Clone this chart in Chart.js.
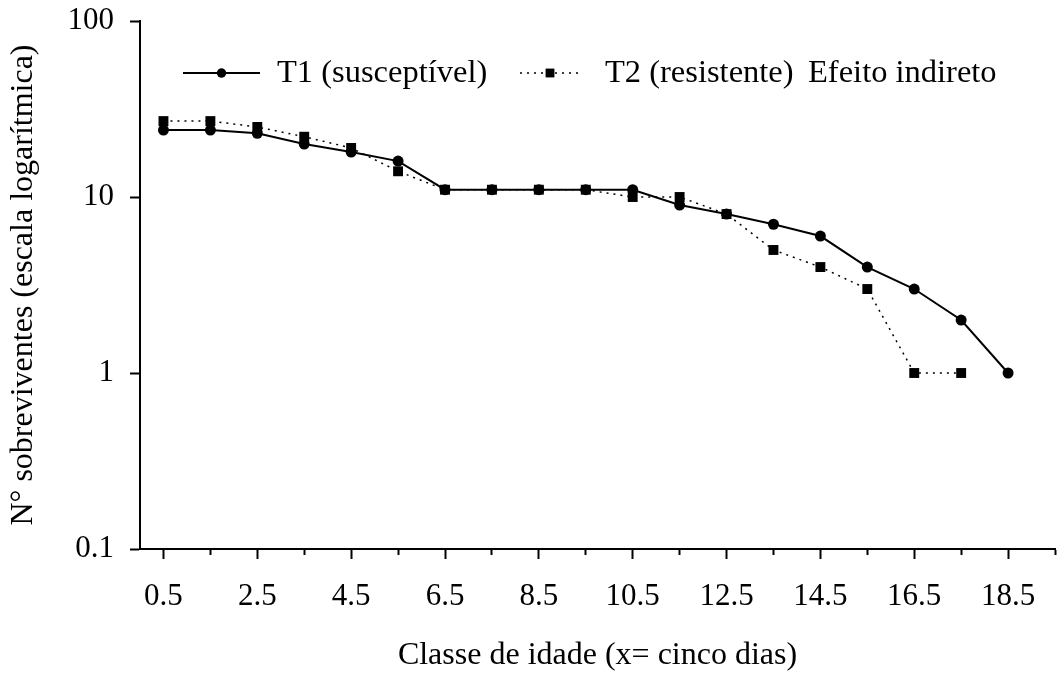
<!DOCTYPE html>
<html lang="pt">
<head>
<meta charset="UTF-8">
<title>Sobreviventes por classe de idade</title>
<script src="https://cdn.jsdelivr.net/npm/chart.js"></script>
<style>
  html, body { margin: 0; padding: 0; background: #fff; overflow: hidden; }
  #wrap { width: 1059px; height: 673px; overflow: hidden; }
</style>
</head>
<body>
<div id="wrap"><canvas id="myChart" width="1062" height="673"></canvas></div>
<script>
  // dados (classe de idade, x = cinco dias)
  const classes = [0.5, 1.5, 2.5, 3.5, 4.5, 5.5, 6.5, 7.5, 8.5, 9.5, 10.5, 11.5, 12.5, 13.5, 14.5, 15.5, 16.5, 17.5, 18.5];
  const t1 = [24, 24, 23, 20, 18, 16, 11, 11, 11, 11, 11, 9, 8, 7, 6, 4, 3, 2, 1];
  const t2 = [27, 27, 25, 22, 19, 14, 11, 11, 11, 11, 10, 10, 8, 5, 4, 3, 1, 1];
  const nomes = ['T1 (susceptível)', 'T2 (resistente)'];
  const nota = 'Efeito indireto';

  const xTicks = [0.5, 1.5, 2.5, 3.5, 4.5, 5.5, 6.5, 7.5, 8.5, 9.5, 10.5, 11.5, 12.5, 13.5, 14.5, 15.5, 16.5, 17.5, 18.5, 19.5];
  const xLabels = [0.5, 2.5, 4.5, 6.5, 8.5, 10.5, 12.5, 14.5, 16.5, 18.5];
  const yTicks = [0.1, 1, 10, 100];
  const yLabels = ['0.1', '1', '10', '100'];

  const fonte = 'Liberation Serif, "Times New Roman", serif';

  function pontos(vals) {
    return vals.map((v, i) => ({ x: classes[i], y: v }));
  }

  // legenda dentro da area do grafico (linha + marcador)
  const legendaInterna = {
    id: 'legendaInterna',
    afterDraw(chart) {
      const ctx = chart.ctx;
      const y = 73;
      const itens = [
        { ds: chart.data.datasets[0], x1: 183, x2: 260, tx: 277, r: 4.5 },
        { ds: chart.data.datasets[1], x1: 520, x2: 580, tx: 605, r: 6 }
      ];
      ctx.save();
      itens.forEach(it => {
        ctx.strokeStyle = '#000';
        ctx.lineWidth = it.ds.borderWidth;
        ctx.setLineDash(it.ds.borderDash || []);
        ctx.beginPath();
        ctx.moveTo(it.x1, y);
        ctx.lineTo(it.x2, y);
        ctx.stroke();
        ctx.setLineDash([]);
        Chart.helpers.drawPoint(ctx, {
          pointStyle: it.ds.pointStyle, radius: it.r, borderWidth: 0
        }, (it.x1 + it.x2) / 2, y);
        ctx.fillStyle = '#000';
        ctx.fill();
        ctx.font = '32.5px ' + fonte;
        ctx.textBaseline = 'middle';
        ctx.textAlign = 'left';
        ctx.fillText(it.ds.label, it.tx, y);
      });
      ctx.fillText(nota, 808, y);
      ctx.restore();
    }
  };

  const ctx = document.getElementById('myChart').getContext('2d');
  const chart = new Chart(ctx, {
    type: 'line',
    data: {
      datasets: [{
        label: nomes[0],
        data: pontos(t1),
        borderColor: '#000',
        backgroundColor: '#000',
        borderWidth: 2,
        pointStyle: 'circle',
        pointRadius: 5.5,
        pointBorderWidth: 0,
        tension: 0,
        order: 2
      }, {
        label: nomes[1],
        data: pontos(t2),
        borderColor: '#000',
        backgroundColor: '#000',
        borderWidth: 1.5,
        borderDash: [2, 5],
        pointStyle: 'rect',
        pointRadius: 7,
        pointBorderWidth: 0,
        tension: 0,
        order: 1
      }]
    },
    options: {
      responsive: false,
      devicePixelRatio: 1,
      animation: false,
      layout: { padding: { top: 21, right: 0, left: 0, bottom: 0 } },
      plugins: {
        legend: { display: false },
        tooltip: { enabled: false }
      },
      scales: {
        x: {
          type: 'linear',
          min: 0,
          max: 19.5,
          afterBuildTicks: s => { s.ticks = xTicks.map(v => ({ value: v })); },
          afterFit: s => { s.height = 124; s.paddingLeft = 0; s.paddingRight = 0; },
          border: { display: true, color: '#000', width: 2 },
          grid: {
            drawOnChartArea: false,
            tickLength: 10,
            tickWidth: 2,
            tickColor: '#000',
            tickBorderDash: c => xLabels.includes(c.tick.value) ? [] : [5, 30]
          },
          ticks: {
            autoSkip: false,
            maxRotation: 0,
            padding: 19,
            color: '#000',
            font: { family: fonte, size: 31 },
            callback: v => xLabels.includes(v) ? v.toFixed(1) : ''
          },
          title: {
            display: true,
            text: 'Classe de idade (x= cinco dias)',
            color: '#000',
            font: { family: fonte, size: 32, lineHeight: 1 },
            padding: { top: 0, bottom: 1 }
          }
        },
        y: {
          type: 'logarithmic',
          min: 0.1,
          max: 100,
          afterBuildTicks: s => { s.ticks = yTicks.map(v => ({ value: v })); },
          afterFit: s => { s.width = 140; s.paddingTop = 0; s.paddingBottom = 0; },
          border: { display: true, color: '#000', width: 2 },
          grid: {
            drawOnChartArea: false,
            tickLength: 10,
            tickWidth: 2,
            tickColor: '#000'
          },
          ticks: {
            padding: 16,
            color: '#000',
            font: { family: fonte, size: 31 },
            callback: v => yLabels[yTicks.indexOf(v)]
          },
          title: {
            display: true,
            text: 'N° sobreviventes (escala logarítmica)',
            color: '#000',
            font: { family: fonte, size: 32 },
            padding: { top: 4, bottom: 0 }
          }
        }
      }
    },
    plugins: [legendaInterna]
  });
</script>
</body>
</html>
